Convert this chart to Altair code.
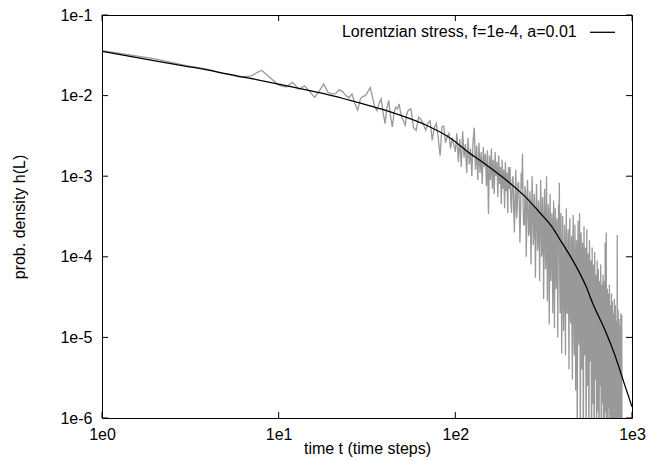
import altair as alt
import pandas as pd

# ---------------- data ----------------
grey_t = [1, 2, 3, 4, 5, 6, 7, 8, 9, 10, 11, 12, 13, 14, 15, 16, 17, 18, 19, 20,
          21, 22, 23, 24, 25, 26, 27, 28, 29, 30, 31, 32, 33, 34, 35, 36, 37, 38, 39, 40,
          41, 42, 43, 44, 45, 46, 47, 48, 49, 50, 51, 52, 53, 54,
          56, 58, 60, 62, 64, 66, 68, 70, 72, 74, 76, 78, 80, 82, 84, 86, 88, 90, 92, 94, 96, 98, 100,
          102, 104, 106, 108, 110, 112, 114, 116, 118, 120, 122, 124, 126, 128, 130, 132, 134, 136,
          138, 140, 142, 144, 146, 148, 150, 152, 154, 156, 158, 160, 162, 164, 166, 168, 170, 172,
          174, 176, 178, 180, 182, 184, 186, 188, 190, 192, 194, 196, 198, 200,
          204, 208, 212, 216, 220, 224, 228, 232, 236, 240, 244, 248, 252, 256, 260, 264, 268, 272,
          276, 280, 284, 288, 292, 296, 300, 304, 308, 312, 316, 320, 324, 328, 332, 336, 340, 344,
          348, 352, 356, 360, 364, 368, 372, 376, 380, 384, 388, 392, 396, 400,
          405, 410, 415, 420, 425, 430, 435, 440, 445, 450, 455, 460, 465, 470, 475, 480, 485, 490,
          495, 500, 505, 510, 515, 520, 525, 530, 535, 540, 545, 550, 555, 560, 565, 570, 575, 580,
          585, 590, 595, 600, 605, 610, 615, 620, 625, 630, 635, 640, 645, 650, 655, 660, 665, 670,
          675, 680, 685, 690, 695, 700, 705, 710, 715, 720, 725, 730, 735, 740, 745, 750, 755, 760,
          765, 770, 775, 780, 785, 790, 795, 800, 805, 810, 815, 820, 825, 830, 835, 840, 845, 850,
          855, 860, 865, 870, 875, 880]

grey_h = [0.036, 0.0285, 0.0235, 0.0212, 0.0186, 0.0170, 0.0176, 0.0206, 0.0165, 0.0135,
          0.0128, 0.0146, 0.0120, 0.0132, 0.0112, 0.0095, 0.0115, 0.0139, 0.0110, 0.0105,
          0.0106, 0.0118, 0.0112, 0.0100, 0.0094, 0.0105, 0.0080, 0.0066, 0.0091, 0.0098,
          0.0100, 0.0112, 0.0126, 0.0095, 0.0072, 0.0065, 0.0080, 0.0091, 0.0062, 0.0045,
          0.0070, 0.0087, 0.0055, 0.0041, 0.0062, 0.0072, 0.0068, 0.0079, 0.0062, 0.0052,
          0.0048, 0.0043, 0.0058, 0.0065,
          0.0069, 0.0040, 0.0037, 0.0054, 0.0050, 0.0044, 0.0037, 0.0046, 0.0049, 0.0028,
          0.0040, 0.0045, 0.0030, 0.0018, 0.0041, 0.0042, 0.0026, 0.0031, 0.0034, 0.0022,
          0.0030, 0.0025, 0.0020,
          3.4e-3, 1.5e-3, 2.9e-3, 1.3e-3, 3.6e-3, 1.7e-3, 2.5e-3, 1.1e-3, 3.0e-3, 1.4e-3,
          2.2e-3, 1.0e-3, 2.7e-3, 4.0e-3, 1.2e-3, 2.4e-3, 9.0e-4, 2.6e-3, 1.1e-3, 2.0e-3,
          8.0e-4, 2.3e-3, 1.3e-3, 1.9e-3, 7.5e-4, 2.1e-3, 3.4e-4, 1.8e-3, 9.0e-4, 2.2e-3,
          7.0e-4, 1.6e-3, 6.0e-4, 2.0e-3, 1.0e-3, 1.5e-3, 5.5e-4, 1.8e-3, 8.0e-4, 1.3e-3,
          4.5e-4, 1.6e-3, 7.0e-4, 1.2e-3, 4.0e-4, 1.5e-3, 6.5e-4, 1.1e-3, 3.5e-4, 1.3e-3,
          1.3e-3, 3.5e-4, 1.0e-3, 2.0e-4, 1.2e-3, 4.0e-4, 8.5e-4, 1.5e-4, 1.1e-3, 1.9e-3,
          2.5e-4, 7.5e-4, 1.0e-4, 9.0e-4, 1.8e-4, 6.5e-4, 8.0e-5, 1.0e-3, 1.4e-4, 6.0e-4,
          5.5e-5, 8.0e-4, 1.2e-4, 5.0e-4, 5.0e-5, 9.0e-4, 1.0e-4, 5.5e-4, 3.0e-5, 7.0e-4,
          7.0e-5, 1.0e-3, 2.8e-5, 4.5e-4, 1.45e-5, 6.0e-4, 5.0e-5, 3.5e-4, 2.0e-5, 5.0e-4,
          1.3e-5, 4.0e-4, 4.0e-5, 3.0e-4, 1.0e-5, 4.5e-4, 8.3e-4, 2.0e-5, 3.5e-4, 6.3e-6,
          3.2e-4, 1.2e-5, 2.5e-4, 6.0e-6, 4.0e-4, 2.0e-5, 2.2e-4, 4.0e-6, 3.0e-4, 1.5e-5,
          1.8e-4, 3.0e-6, 3.3e-4, 8.0e-6, 2.5e-4, 2.2e-6, 1.6e-4, 3.0e-7, 2.8e-4, 1.0e-5,
          3.5e-4, 3.0e-7, 2.0e-4, 4.0e-6, 1.5e-4, 3.0e-7, 2.4e-4, 6.0e-6, 1.3e-4, 3.0e-7,
          2.2e-4, 2.5e-6, 1.1e-4, 3.0e-7, 1.6e-4, 5.0e-6, 9.0e-5, 3.0e-7, 1.3e-4, 1.5e-6,
          8.0e-5, 3.0e-7, 1.15e-4, 3.0e-6, 6.0e-5, 3.0e-7, 9.0e-5, 1.2e-6, 7.0e-5, 3.0e-7,
          5.0e-5, 2.5e-6, 8.0e-5, 3.0e-7, 4.5e-5, 1.5e-6, 6.0e-5, 3.0e-7, 5.0e-5, 3.0e-7,
          1.5e-4, 2.0e-6, 2.0e-4, 3.0e-7, 4.0e-5, 3.0e-7, 3.5e-5, 1.3e-6, 4.5e-5, 3.0e-7,
          2.5e-5, 3.0e-7, 3.5e-5, 2.0e-6, 2.8e-5, 3.0e-7, 2.0e-5, 3.0e-7, 3.0e-5, 1.2e-6,
          2.5e-5, 3.0e-7, 1.6e-5, 3.0e-7, 1.86e-4, 3.0e-7, 2.2e-5, 3.0e-7, 1.7e-5, 3.0e-7,
          1.4e-5, 3.0e-7, 2.0e-5, 3.0e-7, 1.9e-5, 3.0e-7]

# in-between time steps of the dense tail
grey_t2 = [202, 206, 210, 214, 218, 222, 226, 230, 234, 238, 242, 246, 250, 254, 258, 262,
           266, 270, 274, 278, 282, 286, 290, 294, 298, 302, 306, 310, 314, 318, 322, 326,
           330, 334, 338, 342, 346, 350, 354, 358, 362, 366, 370, 374, 378, 382, 386, 390,
           394, 398,
           407, 412, 417, 422, 427, 432, 437, 442, 447, 452, 457, 462, 467, 472, 477, 482,
           487, 492, 497, 502, 507, 512, 517, 522, 527, 532, 537, 542, 547, 552, 557, 562,
           567, 572, 577, 582, 587, 592, 597, 602, 607, 612, 617, 622, 627, 632, 637, 642,
           647, 652, 657, 662, 667, 672, 677, 682, 687, 692, 697, 702, 707, 712, 717, 722,
           727, 732, 737, 742, 747, 752, 757, 762, 767, 772, 777, 782, 787, 792, 797, 802,
           807, 812, 817, 822, 827, 832, 837, 842, 847, 852, 857, 862, 867, 872, 877]
grey_h2 = [7e-4, 5e-4, 9e-4, 4e-4, 6e-4, 3e-4, 8e-4, 5e-4, 3.5e-4, 7e-4, 4e-4, 2.5e-4,
           6e-4, 3e-4, 5e-4, 2e-4, 4.5e-4, 2.5e-4, 5e-4, 1.8e-4, 3.5e-4, 2.2e-4, 4e-4,
           1.5e-4, 3e-4, 2e-4, 4e-4, 1.2e-4, 2.8e-4, 1.6e-4, 3.2e-4, 1e-4, 2.4e-4, 1.4e-4,
           3e-4, 8e-5, 2e-4, 1.2e-4, 2.5e-4, 7e-5, 1.8e-4, 9e-5, 2e-4, 6e-5, 1.5e-4, 8e-5,
           1.7e-4, 5e-5, 1.2e-4, 7e-5,
           8e-5, 3e-5, 1.2e-4, 5e-5, 2e-5, 9e-5, 4e-5, 1.5e-4, 2.5e-5, 7e-5, 1.2e-5, 1e-4,
           4e-5, 6e-6, 8e-5, 3e-5, 1.2e-4, 1.5e-5, 6e-5, 8e-6, 9e-5, 2.5e-5, 5e-5, 1e-5,
           7e-5, 4e-6, 4e-5, 2e-5, 6e-5, 6e-6, 3.5e-5, 1.5e-5, 5e-5, 3e-6, 2.5e-5, 1e-5,
           4e-5, 2e-6, 2e-5, 8e-6, 3e-5, 1.5e-6, 1.8e-5, 6e-6, 2.5e-5, 2e-6, 1.2e-5, 4e-6,
           2e-5, 1e-6, 1e-5, 5e-6, 1.5e-5, 2e-6, 8e-6, 3e-6, 1.2e-5, 1.5e-6, 6e-6, 2.5e-6,
           1e-5, 1.2e-6, 5e-6, 2e-6, 8e-6, 1e-6, 4e-6, 2e-6, 6e-6, 1.2e-6, 3e-6, 1.5e-6,
           5e-6, 1e-6, 2.5e-6, 1.2e-6, 4e-6, 8e-7, 2e-6, 1e-6, 3e-6, 6e-7, 2e-6, 1e-6,
           2.5e-6, 6e-7, 1.5e-6, 8e-7, 2e-6, 6e-7, 1.5e-6, 8e-7, 1.2e-6, 6e-7, 1e-6]

fit_t = [1, 2, 3, 4, 5, 7, 10, 15, 20, 30, 40, 50, 70, 93, 121, 150, 200, 250, 300, 350,
         400, 450, 500, 550, 600, 700, 800, 900, 1000]
fit_h = [0.0355, 0.0269, 0.0231, 0.0207, 0.0187, 0.0163, 0.0139, 0.0115, 0.0100, 0.0079,
         0.0066, 0.0056, 0.0042, 0.0030, 0.00192, 0.00138, 8.5e-4, 5.5e-4, 3.55e-4, 2.40e-4,
         1.51e-4, 1.0e-4, 6.6e-5, 4.27e-5, 2.63e-5, 1.26e-5, 6.03e-6, 2.75e-6, 1.38e-6]

x_ticks = [1, 10, 100, 1000]
x_tick_labels = ["1e0", "1e1", "1e2", "1e3"]
y_ticks = [1e-1, 1e-2, 1e-3, 1e-4, 1e-5, 1e-6]
y_tick_labels = ["1e-1", "1e-2", "1e-3", "1e-4", "1e-5", "1e-6"]

legend_label = "Lorentzian stress, f=1e-4, a=0.01"
x_title = "time t (time steps)"
y_title = "prob. density h(L)"

# ---------------- chart ----------------
FONT = "Liberation Sans"
TOP = 7
W, H = 530, 403

xscale = alt.Scale(type="log", domain=[1, 1000], nice=False)
yscale = alt.Scale(type="log", domain=[1e-6, 1e-1], nice=False)


def label_expr(vals, labels):
    expr = "''"
    for v, l in zip(vals, labels):
        expr = f"abs(datum.value - {v!r}) < {v!r} * 1e-3 ? '{l}' : ({expr})"
    return expr


x_axis = alt.Axis(values=x_ticks, labelExpr=label_expr(x_ticks, x_tick_labels),
                  labelPadding=8, titlePadding=-2, labelFlush=False, title=x_title,
                  grid=False, ticks=False, domain=False)
y_axis = alt.Axis(values=y_ticks, labelExpr=label_expr(y_ticks, y_tick_labels),
                  labelPadding=10, titlePadding=32, title=y_title,
                  grid=False, ticks=False, domain=False)


def X(field="t"):
    return alt.X(f"{field}:Q", scale=xscale, axis=x_axis, title=x_title)


def Y(field="h"):
    return alt.Y(f"{field}:Q", scale=yscale, axis=y_axis, title=y_title)


grey_df = pd.concat([pd.DataFrame({"t": grey_t, "h": grey_h}),
                     pd.DataFrame({"t": grey_t2, "h": grey_h2})]).sort_values("t")
fit_df = pd.DataFrame({"t": fit_t, "h": fit_h})

grey = alt.Chart(grey_df).mark_line(color="#999999", strokeWidth=1.3, clip=True).encode(
    x=X(), y=Y(), order="t:Q")

fit = alt.Chart(fit_df).mark_line(color="black", strokeWidth=1.3, clip=True,
                                  interpolate="monotone").encode(
    x=X(), y=Y(), order="t:Q")

xt_df = pd.DataFrame({"t": x_ticks})
yt_df = pd.DataFrame({"h": y_ticks})
TL = 6
tick_bottom = alt.Chart(xt_df).mark_rule(color="black", strokeWidth=1).encode(
    x=X(), y=alt.value(H), y2=alt.value(H - TL))
tick_top = alt.Chart(xt_df).mark_rule(color="black", strokeWidth=1).encode(
    x=X(), y=alt.value(0), y2=alt.value(TL))
tick_left = alt.Chart(yt_df).mark_rule(color="black", strokeWidth=1).encode(
    y=Y(), x=alt.value(0), x2=alt.value(TL))
tick_right = alt.Chart(yt_df).mark_rule(color="black", strokeWidth=1).encode(
    y=Y(), x=alt.value(W), x2=alt.value(W - TL))

leg_df = pd.DataFrame({"label": [legend_label]})
leg_text = alt.Chart(leg_df).mark_text(align="right", baseline="middle", font=FONT,
                                       fontSize=16, color="black").encode(
    x=alt.value(474.7), y=alt.value(21.5 - (TOP - 2)), text="label:N")
leg_line = alt.Chart(leg_df).mark_rule(color="black", strokeWidth=1.3).encode(
    x=alt.value(488), x2=alt.value(513), y=alt.value(22.3 - (TOP - 2)))

chart = alt.layer(grey, fit, tick_bottom, tick_top, tick_left, tick_right,
                  leg_text, leg_line).properties(
    width=W, height=H, background="white",
    autosize=alt.AutoSizeParams(type="none"),
    padding={"left": 94, "top": TOP, "right": 20, "bottom": 44},
).configure_view(stroke="black", strokeWidth=1).configure_axis(
    grid=False, ticks=False, domain=False,
    labelFont=FONT, labelFontSize=16, labelColor="black",
    titleFont=FONT, titleFontSize=16, titleFontWeight="normal", titleColor="black",
)

chart.save("out.html", embed_options={"renderer": "svg", "actions": False})
